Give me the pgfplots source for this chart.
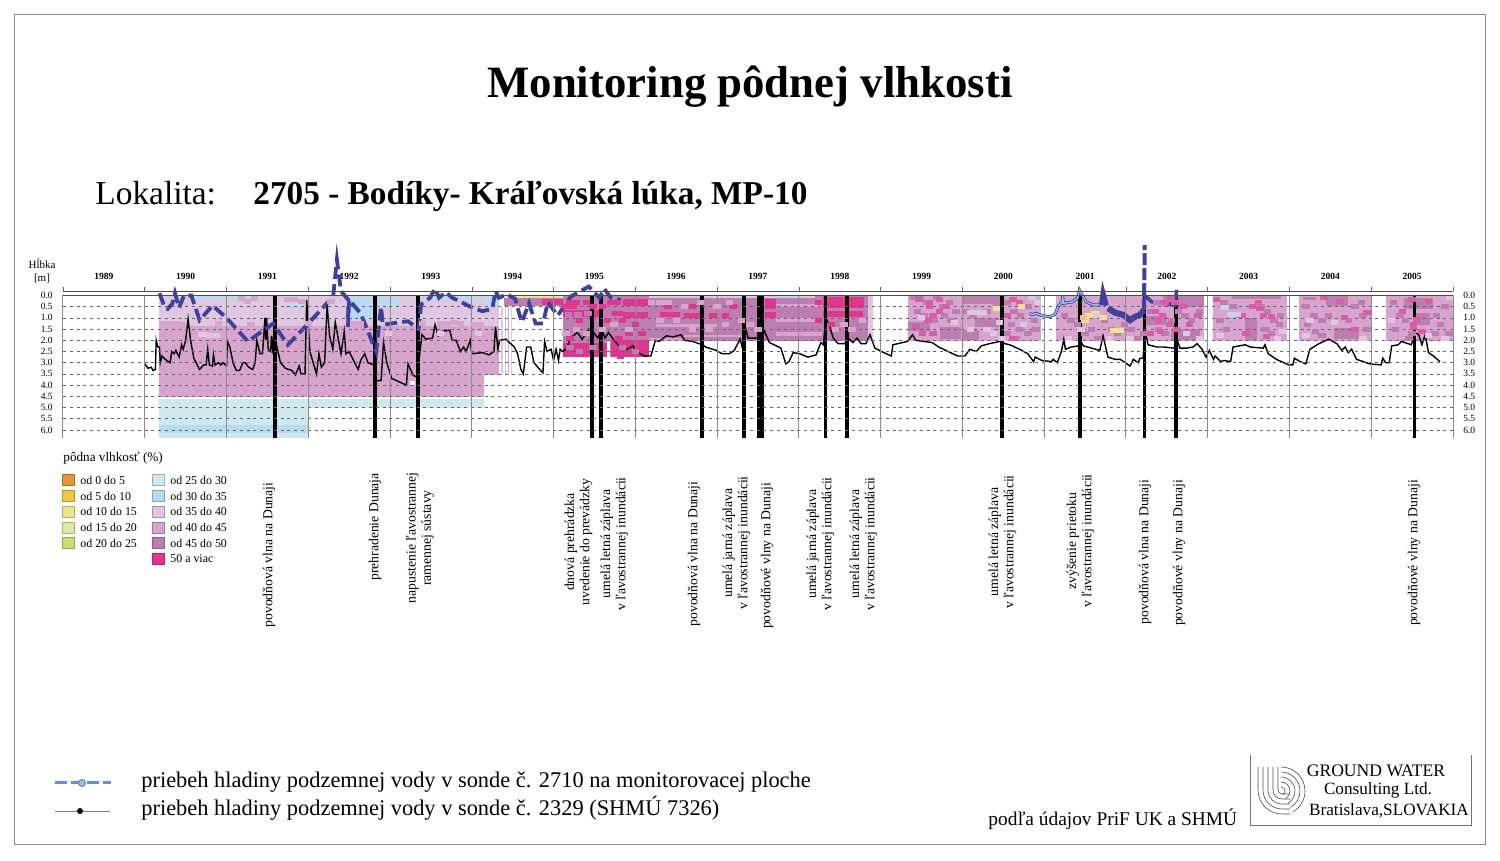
\documentclass[border=0pt]{standalone}
\usepackage{pgfplots}
\pgfplotsset{compat=1.18}
\usepackage{fontspec}
\setmainfont{Liberation Serif}
\definecolor{c0}{HTML}{E8963A}
\definecolor{c5}{HTML}{F0C840}
\definecolor{c10}{HTML}{EEE58A}
\definecolor{c15}{HTML}{DDEBA5}
\definecolor{c20}{HTML}{C5E070}
\definecolor{c25}{HTML}{CFE8EE}
\definecolor{c30}{HTML}{B8DAF3}
\definecolor{c35}{HTML}{DFC7E1}
\definecolor{c40}{HTML}{D6A4CC}
\definecolor{c45}{HTML}{BD7DB0}
\definecolor{c50}{HTML}{E2358F}
\definecolor{c50s}{HTML}{DB5CA6}
\definecolor{wave}{HTML}{3F3F9F}
\definecolor{wavel}{HTML}{8CC8E8}
\pgfplotsset{cell/.style={only marks,mark=square*,mark size=1pt,forget plot,color=#1,
  mark options={solid,draw=#1,fill=#1,line width=0pt,xscale=1.6,yscale=1.0}}}
\newcommand{\band}[5]{\addplot[draw=none,fill=#1,forget plot] coordinates {(#2,#4)(#3,#4)(#3,#5)(#2,#5)} -- cycle;}
\newcommand{\ev}[1]{\addplot[black,line width=1.8pt,forget plot] coordinates {(#1,0)(#1,6.36)};}
\begin{document}
\begin{tikzpicture}
\path (0,0) rectangle (750pt,430.5pt);
\begin{axis}[name=main,at={(31.5pt,211.5pt)},anchor=south west,scale only axis,width=695pt,height=71.25pt,
  xmin=1989,xmax=2006,ymin=0,ymax=6.36,y dir=reverse,clip=false,axis on top,
  axis line style={draw=none},
  xtick={1989.5,1990.5,...,2005.5},
  xticklabels={1989,1990,1991,1992,1993,1994,1995,1996,1997,1998,1999,2000,2001,2002,2003,2004,2005},
  xticklabel pos=upper,
  x tick label style={font=\fontsize{4.75}{5}\selectfont\bfseries,yshift=4.6pt},
  extra x ticks={1989,1990,...,2006},
  extra x tick labels={},
  extra x tick style={grid=major,major grid style={black!45,line width=0.5pt}},
  major tick length=0pt,
  ytick={0.5,1,...,6},
  yticklabels={},
  ymajorgrids,
  y grid style={black!60,line width=0.25pt,dash pattern=on 1.5pt off 1.9pt},
]
% ---- soil moisture: 1990-1995
\band{c35}{1990.18}{1994.33}{0}{1.35}
\band{c40}{1990.18}{1994.15}{1.35}{4.55}
\band{c40}{1994.15}{1994.33}{1.35}{3.55}
\band{c30}{1990.58}{1991.3}{0}{0.15}
\band{c30}{1991.75}{1991.95}{0.38}{0.55}
\band{c30}{1992.5}{1992.83}{0.08}{1.1}
\band{c30}{1992.86}{1993.12}{0.05}{0.5}
\band{c30}{1993.42}{1994.1}{0}{0.2}
\band{c30}{1994.15}{1994.33}{0}{0.5}
\band{c25}{1990.18}{1994.15}{4.62}{5.0}
\band{c25}{1990.18}{1992.01}{5.0}{6.36}
\band{c30}{1990.18}{1992.01}{5.8}{6.15}
\band{white}{1993.24}{1993.30}{3.8}{4.0}
\band{c35}{1994.36}{1994.38}{0.5}{3.55}
\band{c35}{1994.40}{1994.42}{0.5}{3.55}
\band{c40}{1994.44}{1994.46}{0.5}{3.55}
\band{c35}{1994.475}{1994.495}{0.5}{3.55}
\band{c45}{1994.39}{1995.11}{0.12}{0.48}
\band{c10}{1994.42}{1995.10}{0.02}{0.12}
\band{c50}{1994.86}{1995.11}{0.15}{0.42}
\addplot[cell=c40] coordinates {(1990.22,1.25)(1990.3,1.25)(1990.38,1.25)(1990.46,1.3)(1990.9,1.25)(1991.3,1.3)(1991.75,0.2)(1991.83,0.2)(1991.92,0.25)(1992.0,1.25)(1992.28,0.25)(1992.55,1.25)(1992.63,1.25)(1993.4,1.25)(1993.62,1.25)(1993.7,1.25)(1993.78,1.2)(1993.86,1.25)(1994.02,1.3)(1994.1,1.3)(1991.18,0.12)(1991.26,0.25)(1991.34,0.12)};
\addplot[cell=c35] coordinates {(1990.7,1.75)(1990.8,1.78)(1990.88,1.78)(1992.98,1.7)(1993.62,1.7)(1994.08,1.7)};
% ---- 1995-1996.17
\band{c45}{1995.11}{1996.17}{0}{2.75}
\band{c50}{1995.11}{1995.55}{0.65}{0.98}
\band{c50}{1995.85}{1996.16}{0.15}{0.45}
\band{c50}{1995.85}{1996.16}{0.75}{1.0}
\band{c50}{1995.72}{1995.85}{0.7}{0.9}
\band{c50}{1995.11}{1995.65}{2.1}{2.75}
\band{c50}{1995.7}{1996.17}{2.0}{2.75}
\band{c50}{1995.78}{1995.86}{2.75}{2.85}
\band{white}{1995.655}{1995.69}{2.0}{2.75}
\addplot[cell=c50] coordinates {(1995.2,0.3)(1995.28,0.3)(1995.4,0.3)(1995.7,0.3)(1995.78,0.3)(1995.48,0.5)(1995.6,0.5)(1995.15,0.5)(1995.24,0.5)(1995.66,1.1)(1995.84,1.1)(1996.0,1.3)(1995.32,1.1)(1995.92,1.7)(1996.08,1.7)(1995.8,1.9)(1995.2,1.9)};
\addplot[cell=c45] coordinates {(1995.2,2.3)(1995.32,2.5)(1995.48,2.3)(1995.84,2.3)(1996.0,2.5)(1995.3,0.85)(1995.42,0.8)(1995.18,0.85)};
\addplot[cell=c40] coordinates {(1995.4,1.7)(1995.6,1.5)(1995.92,1.5)(1995.15,1.7)(1995.74,1.3)(1995.28,1.5)};
% ---- 1996.17-1998.91
\band{c45}{1996.17}{1998.91}{0}{2.05}
\band{c35}{1996.17}{1998.2}{0}{0.13}
\band{c30}{1997.7}{1998.0}{0}{0.13}
\band{c40}{1996.17}{1996.6}{1.9}{2.05}
\band{c40}{1997.72}{1998.28}{0.4}{0.5}
\band{c40}{1997.72}{1998.28}{1.0}{1.2}
\band{c40}{1997.72}{1998.28}{1.65}{1.8}
\band{c35}{1998.85}{1998.91}{0}{2.05}
\band{c40}{1996.25}{1997.0}{1.28}{1.4}
\band{c40}{1996.6}{1997.35}{1.75}{1.85}
\band{c50}{1996.3}{1996.55}{0.75}{0.98}
\band{c50}{1996.6}{1996.82}{0.8}{1.0}
\band{c50}{1997.58}{1997.72}{0.15}{0.6}
\band{c50}{1997.58}{1997.72}{0.75}{1.0}
\band{c50}{1998.3}{1998.8}{0.05}{0.55}
\band{c50}{1998.3}{1998.78}{0.7}{0.95}
\addplot[cell=c50] coordinates {(1996.95,0.9)(1997.1,0.9)(1997.2,0.5)(1996.4,0.5)(1996.7,0.5)(1998.24,0.3)(1998.24,1.1)(1998.4,1.3)};
\addplot[cell=c40] coordinates {(1996.2,0.3)(1996.3,0.3)(1996.4,0.3)(1996.6,0.5)(1996.8,0.3)(1997.0,0.5)(1997.15,0.3)(1997.3,1.1)(1997.4,1.3)(1997.5,1.5)(1996.3,1.1)(1996.5,1.1)(1996.7,1.5)(1996.9,1.5)(1997.1,1.3)(1998.55,1.3)(1998.65,1.5)(1998.78,1.1)(1998.45,1.5)};
% ---- 1999.335-2000.96
\band{c40}{1999.335}{2000.96}{0}{2.05}
\band{c45}{2000.0}{2000.46}{0}{0.4}
\band{c45}{1999.72}{1999.98}{1.4}{1.95}
\band{c45}{1999.34}{1999.6}{1.2}{1.6}
\band{c45}{2000.15}{2000.45}{1.0}{1.4}
\band{c45}{2000.0}{2000.2}{1.55}{2.0}
\addplot[cell=c45] coordinates {(1999.4,0.1)(1999.48,0.1)(1999.56,0.3)(1999.68,0.1)(1999.76,0.5)(1999.84,0.3)(1999.92,0.7)(1999.45,0.7)(1999.53,0.9)(1999.65,1.1)(1999.78,0.9)(1999.86,1.1)(2000.05,0.7)(2000.13,0.9)(2000.3,0.7)(2000.42,0.5)(2000.55,0.3)(2000.63,0.7)(2000.71,0.9)(2000.8,0.5)(2000.88,1.1)(2000.6,1.3)(2000.7,1.5)(2000.8,1.7)(2000.9,1.5)(2000.55,1.7)(2000.66,1.9)};
\addplot[cell=c50s] coordinates {(1999.6,0.3)(1999.6,0.5)(1999.72,0.2)(1999.47,0.2)(1999.64,0.9)(1999.58,1.1)(1999.43,1.4)(1999.51,1.7)(1999.64,1.7)(1999.8,0.5)(1999.72,0.7)(2000.62,0.2)(2000.62,1.9)(2000.7,0.3)(2000.55,0.9)};
\addplot[cell=c35] coordinates {(2000.1,0.75)(2000.18,0.75)(2000.26,0.75)(2000.1,1.5)(2000.3,1.5)(2000.45,1.2)(2000.38,1.7)(2000.48,1.9)(1999.5,1.0)(1999.9,1.2)(2000.92,0.3)(2000.85,0.1)(2000.75,1.3)};
\addplot[cell=c10] coordinates {(2000.42,0.6)(2000.72,0.5)};
% ---- 2001.145-2002.956
\band{c40}{2001.145}{2002.956}{0}{2.05}
\band{c45}{2002.45}{2002.956}{0}{0.5}
\band{c45}{2002.25}{2002.5}{0.9}{1.3}
\band{c45}{2002.55}{2002.9}{1.5}{2.0}
\addplot[cell=c45] coordinates {(2001.25,0.9)(2001.33,1.1)(2001.41,1.3)(2001.5,1.7)(2001.58,1.5)(2001.66,1.9)(2001.74,1.1)(2001.82,1.5)(2001.9,1.7)(2001.98,1.3)(2002.06,1.5)(2002.14,1.9)(2002.22,1.7)(2002.3,0.7)(2002.4,1.5)(2002.48,1.7)(2002.56,1.1)(2002.64,0.7)(2002.72,0.9)(2002.8,1.1)(2002.9,0.7)(2002.38,0.3)};
\addplot[cell=c50s] coordinates {(2002.36,0.7)(2002.45,0.9)(2002.53,1.3)(2002.62,1.5)(2002.4,1.1)(2002.48,0.3)(2002.6,0.3)(2002.7,0.5)(2002.3,1.7)(2002.78,1.3)(2002.42,1.6)(2002.55,0.1)(2002.88,0.9)};
\addplot[cell=c10] coordinates {(2001.55,0.9)(2001.72,1.0)(2001.62,0.8)(2001.85,1.55)(2001.93,1.55)(2001.5,1.1)};
\addplot[cell=c0!60!white] coordinates {(2001.48,1.0)};
\addplot[cell=c35] coordinates {(2001.3,1.9)(2001.45,1.5)(2001.8,1.9)(2002.05,1.9)(2002.9,1.9)(2002.74,1.7)(2001.65,0.9)};
% ---- 2003.066-2003.971
\band{c40}{2003.066}{2003.971}{0}{2.05}
\band{c45}{2003.3}{2003.9}{0}{0.15}
\band{c45}{2003.45}{2003.6}{1.0}{2.0}
\addplot[cell=c45] coordinates {(2003.15,1.1)(2003.23,1.5)(2003.31,0.5)(2003.39,0.9)(2003.65,0.5)(2003.73,0.7)(2003.81,1.1)(2003.89,0.9)(2003.7,1.5)(2003.78,1.7)(2003.88,1.3)(2003.2,0.3)};
\addplot[cell=c50s] coordinates {(2003.11,0.2)(2003.42,0.9)(2003.55,0.5)(2003.62,0.3)(2003.68,0.9)(2003.78,0.95)(2003.47,1.7)(2003.72,1.85)(2003.64,0.6)};
\addplot[cell=c35] coordinates {(2003.2,0.55)(2003.28,0.85)(2003.36,0.85)(2003.92,1.6)(2003.15,1.8)(2003.85,1.9)};
\addplot[cell=c30] coordinates {(2003.22,0.55)(2003.3,0.87)};
% ---- 2004.118-2004.998
\band{c40}{2004.118}{2004.998}{0}{2.05}
\band{c45}{2004.45}{2004.72}{0}{0.45}
\band{c45}{2004.55}{2004.85}{1.45}{1.95}
\band{c45}{2004.16}{2004.32}{0.05}{0.2}
\addplot[cell=c45] coordinates {(2004.2,0.5)(2004.3,0.9)(2004.4,1.1)(2004.22,1.3)(2004.32,1.6)(2004.4,1.8)(2004.48,0.9)(2004.8,0.5)(2004.9,0.9)(2004.72,1.1)(2004.95,1.5)(2004.88,0.3)};
\addplot[cell=c50s] coordinates {(2004.42,0.07)(2004.62,0.25)(2004.67,1.0)(2004.8,1.5)(2004.95,0.75)};
\addplot[cell=c35] coordinates {(2004.25,1.1)(2004.55,1.2)(2004.9,1.9)(2004.2,1.8)};
% ---- 2005.182-2006
\band{c40}{2005.182}{2006.0}{0}{2.05}
\band{c45}{2005.4}{2005.75}{0.1}{0.6}
\band{c45}{2005.55}{2005.72}{0.8}{1.3}
\addplot[cell=c45] coordinates {(2005.27,0.3)(2005.35,0.9)(2005.3,1.5)(2005.42,1.1)(2005.5,1.7)(2005.8,0.9)(2005.9,0.5)(2005.85,1.3)(2005.78,1.7)(2005.95,1.7)(2005.46,1.9)};
\addplot[cell=c50s] coordinates {(2005.5,0.2)(2005.38,0.7)(2005.55,1.05)(2005.52,1.3)(2005.52,1.45)(2005.62,1.6)(2005.7,0.25)};
\addplot[cell=c35] coordinates {(2005.25,1.1)(2005.7,1.8)(2005.9,1.9)(2005.96,0.1)};
% ---- events
\ev{1991.593}\ev{1992.816}\ev{1993.342}\ev{1995.470}\ev{1995.580}\ev{1996.815}\ev{1997.329}
\addplot[black,line width=3.6pt,forget plot] coordinates {(1997.531,0)(1997.531,6.36)};
\ev{1998.326}\ev{1998.589}\ev{2000.485}\ev{2001.439}\ev{2002.228}\ev{2002.613}\ev{2005.530}
% ---- groundwater level, probe 2329
\addplot[black,line width=0.7pt,forget plot] coordinates {
(1990.00,3.05)(1990.04,3.25)(1990.08,3.2)(1990.10,3.35)(1990.13,3.3)(1990.14,2.0)(1990.16,2.3)(1990.18,2.3)(1990.19,3.0)(1990.21,2.7)(1990.25,2.85)(1990.31,3.0)(1990.33,2.5)(1990.36,2.6)(1990.38,2.45)(1990.42,2.75)(1990.45,2.2)(1990.47,2.4)(1990.50,2.0)(1990.53,1.05)(1990.56,2.0)(1990.60,2.8)(1990.67,3.3)(1990.72,3.1)(1990.75,3.1)(1990.77,2.4)(1990.79,3.1)(1990.83,3.15)(1990.84,2.65)(1990.86,3.1)(1990.90,3.0)(1990.93,3.1)(1990.96,3.0)(1991.00,3.15)(1991.01,2.05)(1991.04,2.3)(1991.08,3.0)(1991.12,3.35)(1991.16,3.35)(1991.20,3.0)(1991.23,3.0)(1991.27,3.2)(1991.32,3.3)(1991.35,3.0)(1991.37,2.0)(1991.41,2.6)(1991.44,2.6)(1991.47,1.0)(1991.48,2.0)(1991.49,1.0)(1991.51,2.4)(1991.54,2.5)(1991.55,1.8)(1991.57,2.6)(1991.58,1.5)(1991.61,2.2)(1991.66,3.0)(1991.72,3.25)(1991.80,3.35)(1991.84,3.55)(1991.89,3.15)(1991.91,3.5)(1991.96,3.5)(1991.98,0.2)(1992.02,2.5)(1992.06,3.0)(1992.10,3.5)(1992.13,2.6)(1992.16,3.2)(1992.20,3.0)(1992.23,0.4)(1992.26,1.8)(1992.30,2.4)(1992.33,1.2)(1992.36,1.8)(1992.40,2.6)(1992.44,1.6)(1992.46,2.6)(1992.50,2.5)(1992.54,2.8)(1992.61,3.3)(1992.64,2.9)(1992.69,2.6)(1992.73,3.0)(1992.80,3.1)(1992.83,3.8)(1992.89,3.8)(1992.92,2.1)(1992.96,3.0)(1993.02,3.7)(1993.08,3.8)(1993.20,4.0)(1993.22,3.05)(1993.28,3.55)(1993.33,3.65)(1993.36,2.7)(1993.39,1.75)(1993.44,1.95)(1993.52,1.9)(1993.55,1.3)(1993.59,1.8)(1993.63,1.6)(1993.73,1.55)(1993.76,2.0)(1993.81,2.0)(1993.86,2.5)(1993.90,2.3)(1993.93,2.5)(1993.98,2.0)(1994.00,2.6)(1994.13,2.55)(1994.21,2.65)(1994.27,2.5)(1994.29,1.4)(1994.32,2.4)
(1994.34,2.0)(1994.42,1.95)(1994.46,2.1)(1994.52,2.3)(1994.56,2.6)(1994.60,3.3)(1994.63,3.5)(1994.67,2.3)(1994.72,2.3)(1994.76,3.0)(1994.83,3.3)(1994.87,3.45)(1994.89,2.05)(1994.92,2.5)(1994.97,2.4)(1995.00,2.9)(1995.03,2.4)(1995.06,2.9)(1995.08,2.4)(1995.11,2.5)(1995.15,2.4)(1995.21,1.9)(1995.29,1.65)(1995.35,1.95)(1995.43,1.5)(1995.48,1.6)(1995.54,1.9)(1995.59,1.5)(1995.63,1.9)(1995.67,1.65)(1995.74,2.0)(1995.84,2.4)(1995.90,2.4)(1995.97,2.25)(1996.03,2.55)(1996.11,2.7)(1996.19,2.7)(1996.245,2.0)(1996.29,2.05)(1996.38,1.8)(1996.46,1.85)(1996.56,1.75)(1996.60,2.0)(1996.70,2.05)(1996.82,2.2)(1996.86,2.3)(1996.99,2.45)(1997.06,2.6)(1997.15,2.6)(1997.21,2.45)(1997.28,1.95)(1997.31,2.35)(1997.35,1.5)(1997.38,1.9)(1997.48,1.9)(1997.54,1.85)(1997.58,1.6)(1997.64,2.1)(1997.78,2.35)(1997.84,3.05)(1997.88,2.95)(1997.93,2.55)(1998.01,2.6)(1998.11,2.75)(1998.21,2.65)(1998.27,2.1)(1998.30,2.2)(1998.33,1.0)(1998.37,1.3)(1998.42,1.9)(1998.48,2.15)(1998.56,2.15)(1998.60,1.9)(1998.66,2.1)(1998.71,1.9)(1998.76,2.15)(1998.82,2.15)(1998.87,1.75)(1998.93,2.35)(1999.01,2.5)(1999.13,2.7)(1999.15,2.2)(1999.21,2.15)(1999.33,2.05)(1999.39,1.75)(1999.43,2.0)(1999.63,2.1)(1999.71,2.3)(1999.94,2.7)(2000.03,2.7)(2000.09,2.4)(2000.17,2.5)(2000.23,2.25)(2000.33,2.15)(2000.46,2.05)
(2000.52,2.15)(2000.58,2.2)(2000.70,2.4)(2000.80,2.6)(2000.87,2.95)(2000.89,2.75)(2000.97,2.9)(2001.09,2.95)(2001.11,2.85)(2001.16,3.0)(2001.21,2.5)(2001.24,1.95)(2001.26,2.4)(2001.33,2.3)(2001.42,2.25)(2001.44,2.0)(2001.48,2.25)(2001.68,2.45)(2001.72,1.8)(2001.78,2.75)(2001.87,2.85)(2001.93,2.85)(2002.05,3.15)(2002.09,2.85)(2002.15,3.0)(2002.17,2.8)(2002.21,2.8)(2002.23,1.5)(2002.27,2.2)(2002.38,2.3)(2002.46,2.3)(2002.59,2.35)(2002.62,1.9)(2002.66,2.35)(2002.74,2.35)(2002.82,2.3)(2002.87,2.15)(2002.93,2.4)(2002.98,2.75)(2003.02,2.45)(2003.07,2.85)(2003.09,2.7)(2003.16,2.95)(2003.20,2.9)(2003.28,2.95)(2003.31,2.3)(2003.46,2.2)(2003.52,2.3)(2003.68,2.35)(2003.70,2.2)(2003.74,2.6)(2003.84,2.85)(2003.99,3.1)(2004.04,3.1)(2004.06,2.8)(2004.13,2.95)(2004.20,3.05)(2004.25,2.4)(2004.36,2.15)(2004.48,1.95)(2004.58,2.15)(2004.64,2.45)(2004.68,2.3)(2004.72,2.55)(2004.76,2.4)(2004.82,2.85)(2004.98,3.05)(2005.12,3.1)(2005.14,2.8)(2005.18,3.0)(2005.22,3.0)(2005.25,2.25)(2005.33,2.2)(2005.37,2.05)(2005.49,2.2)(2005.53,1.65)(2005.58,1.75)(2005.62,2.2)(2005.66,1.75)(2005.70,2.55)(2005.76,2.7)(2005.84,2.95)};
% ---- groundwater level, probe 2710
\addplot[wave,line width=1.9pt,dash pattern=on 6pt off 2.6pt,forget plot] coordinates {
(1990.18,-0.1)(1990.24,0.5)(1990.28,0.6)(1990.34,0.35)(1990.37,-0.1)(1990.42,0.55)(1990.48,0)(1990.57,0)(1990.67,1.1)(1990.83,0.45)(1991.0,1.0)(1991.26,2.05)(1991.57,1.25)(1991.75,2.2)(1992.0,1.25)(1992.24,0.3)(1992.30,0.2)(1992.35,-1.6)(1992.40,-0.2)(1992.49,0.2)(1992.485,1.4)(1992.50,0.2)(1992.64,0.8)(1992.83,2.5)(1992.89,0.5)(1992.91,1.3)(1993.22,1.15)(1993.35,1.5)(1993.38,0.4)(1993.49,0.1)(1993.55,-0.3)(1993.60,0.1)(1993.68,-0.15)(1993.76,0.1)(1994.01,0.55)(1994.13,0.7)(1994.25,0.6)(1994.29,-0.2)(1994.33,0.1)(1994.43,-0.05)(1994.53,0.15)(1994.61,1.2)(1994.70,0.35)(1994.78,1.25)(1994.87,1.25)(1994.93,0.3)(1995.05,0.9)(1995.21,0.05)(1995.31,-0.15)(1995.43,-0.4)(1995.56,0.1)(1995.62,-0.3)(1995.70,0.1)(1995.82,0.2)};
\addplot[wave,line width=1.5pt,forget plot] coordinates {
(2000.82,0.8)(2000.86,0.85)(2000.90,0.8)(2000.98,0.9)(2001.07,0.95)(2001.13,0.85)(2001.17,0.5)(2001.22,0.3)(2001.225,0.0)(2001.235,0.35)(2001.35,0.28)(2001.41,0.1)(2001.43,-0.25)(2001.47,0.0)(2001.51,0.28)(2001.60,0.42)(2001.70,0.42)};
\addplot[wavel,line width=0.7pt,forget plot] coordinates {
(2000.82,0.8)(2000.86,0.85)(2000.90,0.8)(2000.98,0.9)(2001.07,0.95)(2001.13,0.85)(2001.17,0.5)(2001.22,0.3)(2001.225,0.0)(2001.235,0.35)(2001.35,0.28)(2001.41,0.1)(2001.43,-0.25)(2001.47,0.0)(2001.51,0.28)(2001.60,0.42)(2001.70,0.42)};
\addplot[wave,line width=2.5pt,forget plot] coordinates {(2001.70,0.42)(2001.72,-0.1)(2001.76,0.45)};
\addplot[wave,line width=3pt,forget plot] coordinates {(2001.78,0.57)(2001.87,0.77)(2001.97,0.87)(2002.05,1.1)(2002.11,0.95)(2002.17,0.87)(2002.22,0.65)};
\addplot[wave,line width=2pt,dash pattern=on 6pt off 1.5pt,forget plot] coordinates {(2002.22,0.65)(2002.23,-2.25)};
\addplot[wave,line width=1.8pt,forget plot] coordinates {(2002.23,0)(2002.31,0.27)(2002.38,0.35)(2002.50,0.35)(2002.60,0.45)(2002.62,-0.25)};
\end{axis}
% right-hand depth scale and left-hand depth scale
\begin{axis}[at={(31.5pt,211.5pt)},anchor=south west,scale only axis,width=695pt,height=71.25pt,
  xmin=1989,xmax=2006,ymin=0,ymax=6.36,y dir=reverse,hide x axis,
  axis y line*=left,y axis line style={draw=none},major tick length=0pt,
  ytick={0,0.5,...,6},
  yticklabel style={font=\fontsize{4.75}{5}\selectfont,/pgf/number format/fixed,/pgf/number format/zerofill,/pgf/number format/precision=1,/pgf/number format/assume math mode=true,xshift=-1.6pt}]
\end{axis}
\begin{axis}[at={(31.5pt,211.5pt)},anchor=south west,scale only axis,width=695pt,height=71.25pt,
  xmin=1989,xmax=2006,ymin=0,ymax=6.36,y dir=reverse,hide x axis,
  axis y line*=right,y axis line style={draw=none},major tick length=0pt,
  ytick={0,0.5,...,6},
  yticklabel style={font=\fontsize{4.75}{5}\selectfont,/pgf/number format/fixed,/pgf/number format/zerofill,/pgf/number format/precision=1,/pgf/number format/assume math mode=true,xshift=1.6pt}]
\end{axis}
% month ruler
\begin{axis}[at={(31.5pt,284pt)},anchor=south west,scale only axis,width=695pt,height=1pt,
  xmin=1989,xmax=2006,ymin=0,ymax=1,hide y axis,axis x line*=top,
  xtick={1989,...,2006},xticklabels={},minor x tick num=11,
  x axis line style={black!70,line width=0.4pt,-},
  tick style={black!60,line width=0.25pt},
  major tick length=2.2pt,minor tick length=1.2pt,tick align=outside]
\end{axis}
\begin{scope}[x=0.5pt,y=-0.5pt,shift={(0pt,430.5pt)}]
\draw[black!45,line width=0.5pt] (14,15) rectangle (1485,845);
\draw[black!70,line width=0.4pt] (63,295.5) -- (1453,295.5);
\node[font=\fontsize{22.4}{24}\selectfont\bfseries] at (750,87) {Monitoring pôdnej vlhkosti};
\node[anchor=base west,inner sep=0pt,font=\fontsize{16.7}{18}\selectfont] at (95,205) {Lokalita:};
\node[anchor=base west,inner sep=0pt,font=\fontsize{16.65}{18}\selectfont\bfseries] at (253,205) {2705 - Bodíky- Kráľovská lúka, MP-10};
\node[font=\fontsize{5.5}{6.5}\selectfont,align=center] at (42,271) {Hĺbka\\{}[m]};
% moisture legend
\node[anchor=west,inner sep=0pt,font=\fontsize{6.6}{7}\selectfont] at (63,458) {pôdna vlhkosť (\%)};
\def\lg#1#2#3#4{\draw[fill=#3,draw=#3!75!black,line width=0.3pt] (#1,#2-5.5) rectangle ++(12,11);
  \node[anchor=west,inner sep=0pt,font=\fontsize{5.95}{6}\selectfont] at (#1+18,#2) {#4};}
\lg{62}{480}{c0}{od 0 do 5}
\lg{62}{496}{c5}{od 5 do 10}
\lg{62}{511.5}{c10}{od 10 do 15}
\lg{62}{527.5}{c15}{od 15 do 20}
\lg{62}{543}{c20}{od 20 do 25}
\lg{152}{480}{c25}{od 25 do 30}
\lg{152}{496}{c30}{od 30 do 35}
\lg{152}{511.5}{c35}{od 35 do 40}
\lg{152}{527.5}{c40}{od 40 do 45}
\lg{152}{543}{c45}{od 45 do 50}
\lg{152}{558.5}{c50}{50 a viac}
% event labels
\def\tl#1#2#3{\node[rotate=90,align=center,inner sep=0pt,font=\fontsize{6.85}{7.6}\selectfont] at (#1,#2) {#3};}
\def\II{v ľavostrannej inundácii}
\tl{269}{555}{povodňová vlna na Dunaji}
\tl{375}{527}{prehradenie Dunaja}
\tl{420}{538}{napustenie ľavostrannej\\ramennej sústavy}
\tl{578.5}{542}{dnová prehrádzka\\uvedenie do prevádzky}
\tl{614.5}{544}{umelá letná záplava\\\II}
\tl{694}{554}{povodňová vlna na Dunaji}
\tl{736.5}{543}{umelá jarná záplava\\\II}
\tl{767}{556}{povodňové vlny na Dunaji}
\tl{820.5}{544}{umelá jarná záplava\\\II}
\tl{863.5}{544}{umelá letná záplava\\\II}
\tl{1002.5}{542}{umelá letná záplava\\\II}
\tl{1080.5}{541}{zvýšenie prietoku\\\II}
\tl{1145}{552}{povodňová vlna na Dunaji}
\tl{1179}{553}{povodňové vlny na Dunaji}
\tl{1414}{553}{povodňové vlny na Dunaji}
% series key
\draw[wavel!70!blue,line width=1.5pt,dash pattern=on 6pt off 2pt] (55,783) -- (111,783);
\draw[fill=wavel,draw=wave!70,line width=0.5pt] (82,783) circle (3.5);
\draw[black!50,line width=0.4pt] (55,811) -- (110,811);
\fill[black] (80,811) circle (3);
\node[anchor=base west,inner sep=0pt,font=\fontsize{11.2}{12}\selectfont] at (141,788) {priebeh hladiny podzemnej vody v sonde č. 2710 na monitorovacej ploche};
\node[anchor=base west,inner sep=0pt,font=\fontsize{11.2}{12}\selectfont] at (141,816) {priebeh hladiny podzemnej vody v sonde č. 2329 (SHMÚ 7326)};
\node[anchor=base west,inner sep=0pt,font=\fontsize{9.7}{11}\selectfont] at (988,826) {podľa údajov PriF UK a SHMÚ};
% company box
\draw[black!55,line width=0.5pt] (1250,755) -- (1250,826) -- (1471,826) -- (1471,755);
\node[font=\fontsize{8.8}{10}\selectfont] at (1376,771) {GROUND WATER};
\node[font=\fontsize{8.6}{10}\selectfont] at (1378,790) {Consulting Ltd.};
\node[font=\fontsize{8.6}{10}\selectfont] at (1389,811) {Bratislava,SLOVAKIA};
\begin{scope}[black!70,line width=0.3pt]
\foreach \r in {4,9,14,19,24} {
 \draw (1282-\r,767) -- (1282-\r,790) arc[start angle=180,end angle=90,radius=\r] -- (1290,790+\r);
 \draw (1281,791-\r) arc[start angle=-90,end angle=60,radius=\r];
}
\end{scope}
\end{scope}
\end{tikzpicture}
\end{document}
